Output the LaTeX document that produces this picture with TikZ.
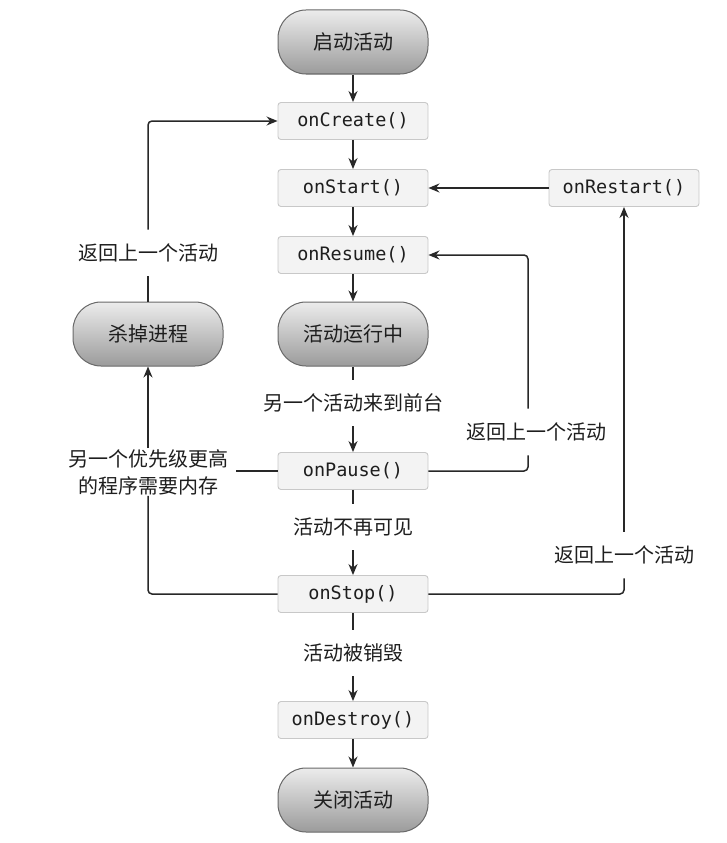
\documentclass[tikz,border=0pt]{standalone}
\usepackage{fontspec}
\setmonofont{DejaVu Sans Mono}
\newfontfamily\cjk{Noto Sans CJK SC}
\usepackage{tikz}
\usetikzlibrary{arrows.meta}
\definecolor{linegray}{RGB}{40,40,40}
\definecolor{boxfill}{RGB}{243,243,243}
\definecolor{boxline}{RGB}{200,200,200}
\definecolor{termtop}{RGB}{236,236,236}
\definecolor{termbot}{RGB}{155,155,155}
\definecolor{termline}{RGB}{105,105,105}
\definecolor{textgray}{RGB}{30,30,30}

\begin{document}
\begin{tikzpicture}[x=1pt,y=-1pt,
		methodbox/.style={draw=boxline,fill=boxfill,rounded corners=3pt,line width=0.9pt,
			minimum width=150pt,minimum height=37pt,text=textgray,
			font=\ttfamily\fontsize{18.5}{20}\selectfont},
		termbox/.style={draw=termline,top color=termtop,bottom color=termbot,rounded corners=28pt,
			line width=1pt,minimum width=150pt,minimum height=64pt,text=textgray,
			font=\cjk\fontsize{20}{24}\selectfont},
		steplabel/.style={inner xsep=0pt,inner ysep=14pt,text=textgray,
			font=\cjk\fontsize{20}{27}\selectfont},
		flow/.style={draw=linegray,line width=1.5pt,rounded corners=4pt},
		tip/.style={-{Stealth[length=11pt,width=9pt]}}]
				\useasboundingbox (0,0) rectangle (727,843);
				% start, running and end states
				\node[termbox] (start) at (353,42) {启动活动};
				\node[termbox] (running) at (353,334) {活动运行中};
				\node[termbox] (close) at (353,800) {关闭活动};
				\node[termbox] (kill) at (148,334) {杀掉进程};
				% lifecycle callbacks
				\foreach \nm/\y/\txt in {create/121/onCreate(),startcb/188/onStart(),resume/255/onResume(),
					pause/471/onPause(),stop/594/onStop(),destroy/720/onDestroy()}{
					\node[methodbox] (\nm) at (353,\y) {\txt};
				}
				\node[methodbox] (restart) at (624,188) {onRestart()};
				% labels on the lines
				\node[steplabel] (front) at (353,403) {另一个活动来到前台};
				\node[steplabel] (invis) at (353,527) {活动不再可见};
				\node[steplabel] (gone) at (353,653) {活动被销毁};
				\node[steplabel] (backleft) at (148,253) {返回上一个活动};
				\node[steplabel] (backpause) at (536,432) {返回上一个活动};
				\node[steplabel] (backstop) at (624,555) {返回上一个活动};
				\node[steplabel,inner xsep=8pt,inner ysep=1pt,align=center] (memory) at (148,472)
					{另一个优先级更高\\的程序需要内存};
				% main column
				\foreach \a/\b in {start/create,create/startcb,startcb/resume,resume/running,
					front/pause,invis/stop,gone/destroy,destroy/close}{
					\draw[flow,tip] (\a) -- (\b);
				}
				\foreach \a/\b in {running/front,pause/invis,stop/gone}{
					\draw[flow] (\a) -- (\b);
				}
				% back to onResume
				\draw[flow] (pause.east) -| ([xshift=-8pt]backpause.south);
				\draw[flow,tip] ([xshift=-8pt]backpause.north) |- (resume.east);
				% back via onRestart
				\draw[flow] (stop.east) -| (backstop.south);
				\draw[flow,tip] (backstop.north) -- (restart.south);
				\draw[flow,tip] (restart.west) -- (startcb.east);
				% process killed
				\draw[flow] (pause.west) -- (pause.west -| memory.east);
				\draw[flow] (stop.west) -| (memory.south);
				\draw[flow,tip] (memory.north) -- (kill.south);
				\draw[flow] (kill.north) -- (backleft.south);
				\draw[flow,tip] (backleft.north) |- (create.west);
\end{tikzpicture}
\end{document}
